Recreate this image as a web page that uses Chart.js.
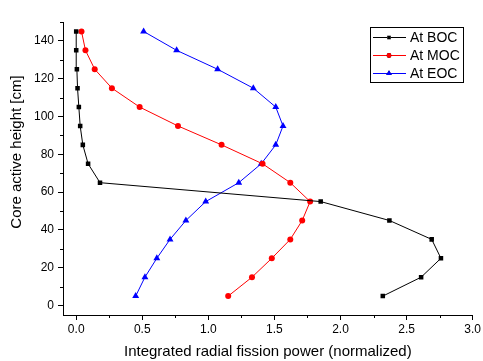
<!DOCTYPE html>
<html><head><meta charset="utf-8">
<script src="https://cdn.jsdelivr.net/npm/chart.js@4.4.1/dist/chart.umd.min.js"></script>
<style>html,body{margin:0;padding:0;background:#fff}#wrap{width:483px;height:361px}</style>
</head><body><div id="wrap"><canvas id="c" width="483" height="361"></canvas></div>
<script>
const heights = [5,15,25,35,45,55,65,75,85,95,105,115,125,135,145];
const boc = [2.32,2.61,2.76,2.69,2.37,1.85,0.18,0.09,0.05,0.03,0.02,0.01,0.005,0.0,0.0];
const moc = [1.15,1.33,1.48,1.62,1.71,1.77,1.62,1.41,1.10,0.77,0.48,0.27,0.14,0.07,0.04];
const eoc = [0.45,0.52,0.61,0.71,0.83,0.98,1.23,1.40,1.51,1.565,1.51,1.34,1.07,0.76,0.51];
const seriesLabels = ['At BOC','At MOC','At EOC'];
const xTicks = [0,0.5,1.0,1.5,2.0,2.5,3.0];
const yTicks = [0,20,40,60,80,100,120,140];
const yTitle = 'Core active height [cm]';
const FONT = "'Liberation Sans', Arial, sans-serif";

function pts(xs){ return xs.map((x,i)=>({x:x,y:heights[i]})); }
function ds(label,xs,color,style,r){
  return {label:label,data:pts(xs),showLine:true,borderColor:color,backgroundColor:color,
    borderWidth:1,pointStyle:style,pointRadius:r,pointHoverRadius:r,pointBorderWidth:0,tension:0};
}

const extras = {
  id:'extras',
  afterDraw(chart){
    const ctx=chart.ctx, xs=chart.scales.x, ys=chart.scales.y;
    ctx.save(); ctx.strokeStyle='#000'; ctx.lineWidth=1;
    for(let v=-0.25; v<=3.0001; v+=0.5){
      if(v<xs.min) continue;
      const p=Math.round(xs.getPixelForValue(v))+0.5;
      ctx.beginPath(); ctx.moveTo(p,xs.top); ctx.lineTo(p,xs.top+3); ctx.stroke();
    }
    for(let v=10; v<=150; v+=20){
      const p=Math.round(ys.getPixelForValue(v))+0.5;
      ctx.beginPath(); ctx.moveTo(ys.right,p); ctx.lineTo(ys.right-3,p); ctx.stroke();
    }
    // y title
    ctx.save();
    ctx.translate(17,152); ctx.rotate(-Math.PI/2);
    ctx.fillStyle='#000'; ctx.font='15px '+FONT; ctx.textAlign='center'; ctx.textBaseline='middle';
    ctx.fillText(yTitle,0,0);
    ctx.restore();
    // legend
    const lx=370, ly=27, lw=93, lh=55;
    ctx.fillStyle='#fff'; ctx.fillRect(lx,ly,lw,lh);
    ctx.strokeStyle='#000'; ctx.lineWidth=1; ctx.strokeRect(lx+0.5,ly+0.5,lw,lh);
    chart.data.datasets.forEach((d,i)=>{
      const yy=ly+10+i*18;
      ctx.strokeStyle=d.borderColor; ctx.lineWidth=1;
      ctx.beginPath(); ctx.moveTo(lx+3,yy+0.5); ctx.lineTo(lx+36,yy+0.5); ctx.stroke();
      Chart.helpers.drawPoint(ctx,{pointStyle:d.pointStyle,radius:d.pointRadius*0.8,borderWidth:0,rotation:0},lx+19,yy+0.5);
      ctx.fillStyle=d.borderColor; ctx.fill();
      ctx.fillStyle='#000'; ctx.font='14px '+FONT; ctx.textBaseline='middle'; ctx.textAlign='left';
      ctx.fillText(d.label,lx+40,yy+1);
    });
    ctx.restore();
  }
};

new Chart(document.getElementById('c'),{
  type:'scatter',
  data:{datasets:[
    ds(seriesLabels[0],boc,'#000000','rect',3.2),
    ds(seriesLabels[1],moc,'#ff0000','circle',3),
    ds(seriesLabels[2],eoc,'#0000ff','triangle',4)
  ]},
  options:{
    responsive:false,animation:false,
    layout:{padding:{top:22,right:10,left:0,bottom:0}},
    plugins:{legend:{display:false},tooltip:{enabled:false}},
    scales:{
      x:{type:'linear',min:-0.1,max:3.0,
        afterBuildTicks(s){ s.ticks=xTicks.map(v=>({value:v})); },
        afterFit(s){ s.height=46; },
        grid:{drawOnChartArea:false,drawTicks:true,tickLength:5,color:'#000'},
        border:{display:true,color:'#000',width:1},
        ticks:{color:'#000',font:{family:FONT,size:12},padding:2,maxRotation:0,
          callback:v=>v.toFixed(1)},
        title:{display:true,text:'Integrated radial fission power (normalized)',color:'#000',
          font:{family:FONT,size:15},padding:{top:2,bottom:0}}
      },
      y:{type:'linear',min:-5,max:150,
        afterBuildTicks(s){ s.ticks=yTicks.map(v=>({value:v})); },
        afterFit(s){ s.width=63; },
        grid:{drawOnChartArea:false,drawTicks:true,tickLength:5,color:'#000'},
        border:{display:true,color:'#000',width:1},
        ticks:{color:'#000',font:{family:FONT,size:12},padding:4},
        title:{display:false}
      }
    }
  },
  plugins:[extras]
});
</script></body></html>
